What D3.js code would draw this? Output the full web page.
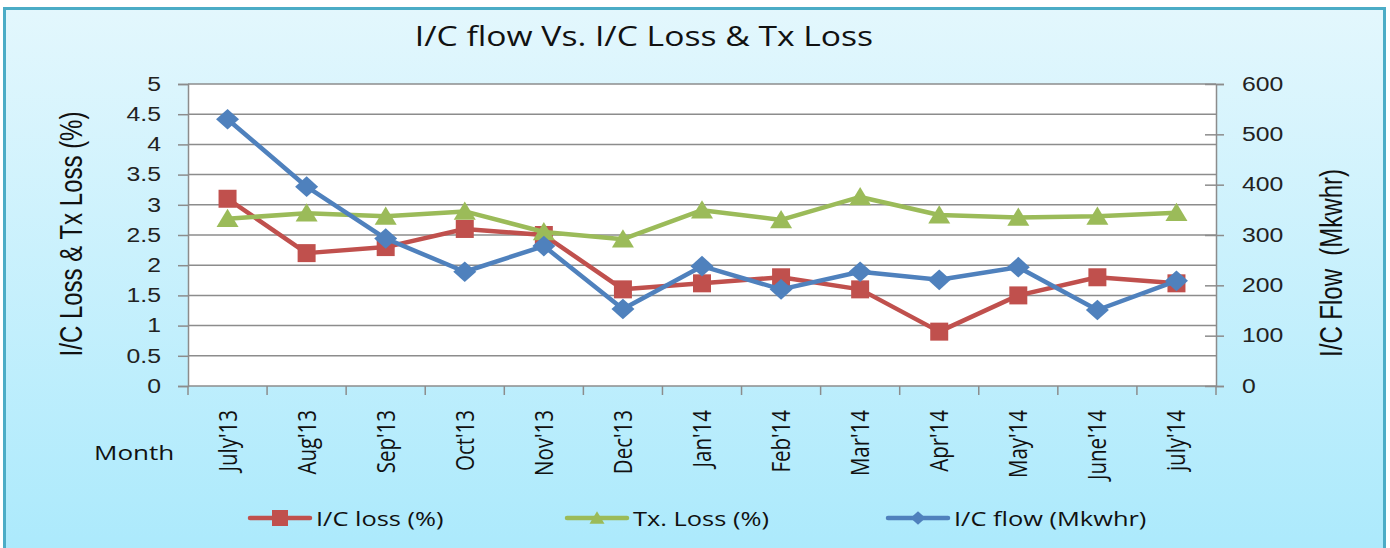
<!DOCTYPE html>
<html>
<head>
<meta charset="utf-8">
<script src="https://cdn.jsdelivr.net/npm/d3@7"></script>
<style>
  body { margin: 0; background: #fff; overflow: hidden; }
</style>
</head>
<body>
<div id="chart"></div>
<script>

// data
var months = ["July'13", "Aug'13", "Sep'13", "Oct'13", "Nov'13", "Dec'13", "Jan'14",
              "Feb'14", "Mar'14", "Apr'14", "May'14", "June'14", "july'14"];
var icLoss = [3.1, 2.2, 2.3, 2.6, 2.5, 1.6, 1.7, 1.8, 1.6, 0.9, 1.5, 1.8, 1.7];
var txLoss = [2.77, 2.86, 2.81, 2.89, 2.55, 2.43, 2.91, 2.75, 3.13, 2.83, 2.79, 2.81, 2.87];
var icFlow = [530, 396, 293, 227, 278, 153, 238, 192, 227, 211, 236, 151, 209];
var leftTicks = [0, 0.5, 1, 1.5, 2, 2.5, 3, 3.5, 4, 4.5, 5];
var rightTicks = [0, 100, 200, 300, 400, 500, 600];

var red = "#c0504d", green = "#9bbb59", blue = "#4f81bd";
var calibri = "'Open Sans', Lato, sans-serif";
var arial = "'Liberation Sans', Arial, sans-serif";

// the original picture is stretched sideways, so text gets the same stretch
var sx = 1.27;
function place(x, y, rot) {
  return "translate(" + x + "," + y + ") scale(" + sx + ",1)" + (rot ? " rotate(" + rot + ")" : "");
}

// set the dimensions and margins of the graph
var W = 1390, H = 548;
var margin = {top: 84, left: 188},
    width = 1028,
    height = 302;

var root = d3.select("#chart")
  .append("svg")
    .attr("width", W)
    .attr("height", H);

// background gradient
var grad = root.append("defs").append("linearGradient")
    .attr("id", "bg")
    .attr("x1", 0).attr("y1", 0).attr("x2", 0).attr("y2", 1);
grad.append("stop").attr("offset", "0%").attr("stop-color", "#e3f7fd");
grad.append("stop").attr("offset", "100%").attr("stop-color", "#a9e9fc");

root.append("rect")
    .attr("x", 0).attr("y", 0).attr("width", W).attr("height", H)
    .attr("fill", "#fff");
root.append("rect")
    .attr("x", 4.5).attr("y", 8.5).attr("width", 1380).attr("height", 570)
    .attr("fill", "url(#bg)")
    .attr("stroke", "#4bacc6")
    .attr("stroke-width", 3);

// title
root.append("text")
    .attr("transform", place(644, 46))
    .attr("text-anchor", "middle")
    .style("font-family", calibri)
    .style("font-size", "26.5px")
    .style("fill", "#111")
    .text("I/C flow Vs. I/C Loss & Tx Loss");

var svg = root.append("g")
    .attr("transform", "translate(" + margin.left + "," + margin.top + ")");

// plot area
svg.append("rect")
    .attr("width", width)
    .attr("height", height)
    .attr("fill", "#fff");

//////////
// SCALES //
//////////

var x = d3.scaleBand()
  .domain(months)
  .range([0, width]);

var y = d3.scaleLinear()
  .domain([0, 5])
  .range([height, 0]);

var y2 = d3.scaleLinear()
  .domain([0, 600])
  .range([height, 0]);

// gridlines
svg.selectAll("grid")
  .data(leftTicks.slice(1))
  .enter()
  .append("line")
    .attr("x1", 0)
    .attr("x2", width)
    .attr("y1", function(d) { return y(d); })
    .attr("y2", function(d) { return y(d); })
    .attr("stroke", "#8c8c8c")
    .attr("stroke-width", 1.5);

//////////
// AXIS //
//////////

var axisColor = "#8c8c8c";

function styleTicks(g) {
  g.select(".domain").attr("stroke", axisColor).attr("stroke-width", 1.5);
  g.selectAll(".tick line").attr("stroke", axisColor).attr("stroke-width", 1.5);
  g.selectAll(".tick text")
    .each(function() {
      var t = d3.select(this);
      var x0 = +t.attr("x");
      t.attr("x", 0).attr("transform", place(x0, 0));
    })
    .style("font-family", arial)
    .style("font-size", "19.5px")
    .style("fill", "#222");
}

// left axis
var yAxis = svg.append("g")
  .call(d3.axisLeft(y).tickValues(leftTicks).tickSize(10).tickPadding(17)
    .tickFormat(function(d) { return String(d); }));
styleTicks(yAxis);

// right axis
var yAxis2 = svg.append("g")
  .attr("transform", "translate(" + width + ",0)")
  .call(d3.axisRight(y2).tickValues(rightTicks).tickSize(8).tickPadding(18));
styleTicks(yAxis2);
yAxis2.selectAll(".tick line").attr("x1", -11);

// bottom axis: ticks between the categories
var xAxis = svg.append("g")
  .attr("transform", "translate(0," + height + ")");
xAxis.append("line")
  .attr("x1", 0).attr("x2", width)
  .attr("stroke", axisColor).attr("stroke-width", 1.5);
xAxis.selectAll("xtick")
  .data(months.concat(["end"]))
  .enter()
  .append("line")
    .attr("x1", function(d, i) { return i * x.step(); })
    .attr("x2", function(d, i) { return i * x.step(); })
    .attr("y1", 0)
    .attr("y2", 9)
    .attr("stroke", axisColor)
    .attr("stroke-width", 1.5);
xAxis.selectAll("xlabel")
  .data(months)
  .enter()
  .append("text")
    .attr("transform", function(d) {
      return place(x(d) + x.bandwidth() / 2 + 9, 24, -90);
    })
    .attr("text-anchor", "end")
    .style("font-family", calibri)
    .style("font-size", "20.5px")
    .style("fill", "#111")
    .text(function(d) { return d; });

// axis titles
root.append("text")
    .attr("transform", place(82, 234, -90))
    .attr("text-anchor", "middle")
    .style("font-family", arial)
    .style("font-size", "24px")
    .style("fill", "#111")
    .text("I/C Loss & Tx Loss (%)");

root.append("text")
    .attr("transform", place(1342, 263, -90))
    .attr("text-anchor", "middle")
    .style("font-family", arial)
    .style("font-size", "24px")
    .style("fill", "#111")
    .style("white-space", "pre")
    .text("I/C Flow  (Mkwhr)");

root.append("text")
    .attr("transform", place(94, 460))
    .style("font-family", calibri)
    .style("font-size", "20.5px")
    .style("fill", "#111")
    .text("Month");

//////////
// SERIES //
//////////

var cx = function(i) { return x(months[i]) + x.bandwidth() / 2; };

var shapes = {
  square: function(s) { return "M" + (-s / 2) + "," + (-s / 2) + "h" + s + "v" + s + "h" + (-s) + "Z"; },
  triangle: function(s) { return "M0," + (-s * 0.45) + "L" + (s / 2) + "," + (s * 0.38) + "L" + (-s / 2) + "," + (s * 0.38) + "Z"; },
  diamond: function(s) { return "M0," + (-s * 0.45) + "L" + (s / 2) + ",0L0," + (s * 0.45) + "L" + (-s / 2) + ",0Z"; }
};

var series = [
  {name: "I/C loss (%)", values: icLoss, scale: y, color: red, shape: "square", size: 18},
  {name: "Tx. Loss (%)", values: txLoss, scale: y, color: green, shape: "triangle", size: 22},
  {name: "I/C flow (Mkwhr)", values: icFlow, scale: y2, color: blue, shape: "diamond", size: 23}
];

// draw order: red, green, blue on top
series.forEach(function(s) {
  var line = d3.line()
    .x(function(d, i) { return cx(i); })
    .y(function(d) { return s.scale(d); });

  svg.append("path")
    .datum(s.values)
    .attr("d", line)
    .attr("fill", "none")
    .attr("stroke", s.color)
    .attr("stroke-width", 4.5)
    .attr("stroke-linejoin", "round");

  svg.selectAll("marker-" + s.shape)
    .data(s.values)
    .enter()
    .append("path")
      .attr("transform", function(d, i) { return "translate(" + cx(i) + "," + s.scale(d) + ")"; })
      .attr("d", shapes[s.shape](s.size))
      .attr("fill", s.color);
});

//////////
// LEGEND //
//////////

var legendX = [250, 567, 888];
series.forEach(function(s, i) {
  var g = root.append("g")
    .attr("transform", "translate(" + legendX[i] + ",518)");
  g.append("line")
    .attr("x1", 0).attr("x2", 60)
    .attr("stroke", s.color)
    .attr("stroke-width", 4.5)
    .attr("stroke-linecap", "round");
  g.append("path")
    .attr("transform", "translate(30,0)")
    .attr("d", shapes[s.shape](s.shape === "square" ? 16 : 15))
    .attr("fill", s.color);
  g.append("text")
    .attr("transform", place(66, 8))
    .style("font-family", calibri)
    .style("font-size", "20px")
    .style("fill", "#111")
    .text(s.name);
});

</script>
</body>
</html>
